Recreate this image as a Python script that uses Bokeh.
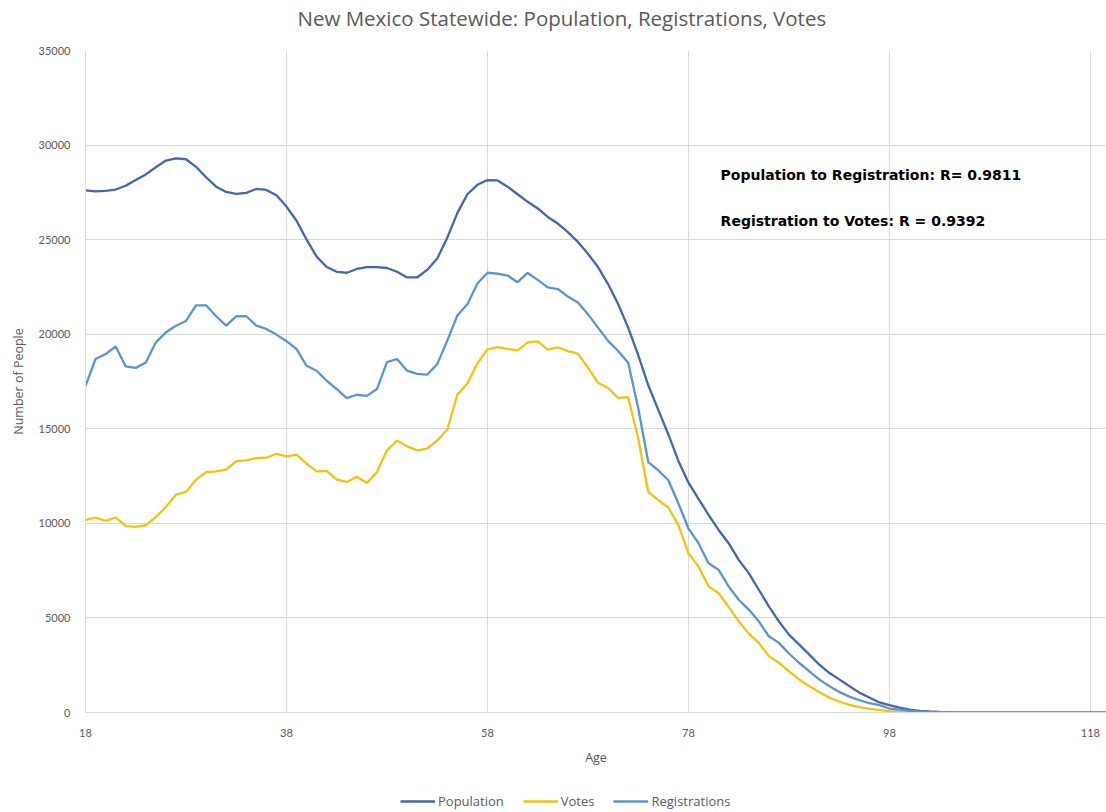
from bokeh.plotting import figure
from bokeh.layouts import column
from bokeh.models import Range1d, FixedTicker, Legend, LegendItem, Label, ColumnDataSource
from bokeh.embed import file_html
from bokeh.resources import INLINE

ages = list(range(18, 121))

population = [
    27600, 27550, 27580, 27650, 27850, 28150, 28450, 28830, 29180, 29300,
    29250, 28850, 28300, 27800, 27520, 27420, 27470, 27680, 27630, 27350,
    26750, 26000, 25000, 24100, 23550, 23300, 23250, 23450, 23550, 23550,
    23500, 23300, 23000, 23000, 23400, 24000, 25100, 26400, 27400, 27900,
    28150, 28130, 27800, 27400, 27000, 26650, 26200, 25850, 25400, 24880,
    24250, 23550, 22650, 21600, 20350, 18900, 17300, 16000, 14700, 13300,
    12150, 11300, 10450, 9650, 8950, 8070, 7370, 6490, 5610, 4820,
    4120, 3600, 3070, 2540, 2100, 1750, 1400, 1050, 790, 530,
    390, 260, 150, 90, 55, 35, 25, 15, 10, 8,
    6, 5, 4, 3, 3, 2, 2, 1, 1, 1,
    1, 1, 1,
]

registrations = [
    17270, 18690, 18950, 19350, 18300, 18220, 18500, 19570, 20100, 20450,
    20700, 21530, 21530, 20950, 20450, 20950, 20950, 20450, 20280, 19980,
    19630, 19220, 18330, 18070, 17540, 17100, 16620, 16800, 16740, 17100,
    18520, 18690, 18070, 17900, 17860, 18420, 19660, 20990, 21580, 22680,
    23250, 23200, 23100, 22750, 23240, 22870, 22480, 22390, 21990, 21680,
    21060, 20350, 19650, 19110, 18490, 16100, 13240, 12800, 12280, 11050,
    9730, 8950, 7890, 7540, 6670, 5960, 5440, 4820, 4030, 3680,
    3120, 2630, 2190, 1750, 1400, 1090, 840, 650, 490, 390,
    210, 150, 90, 50, 30, 20, 15, 10, 8, 6,
    5, 4, 4, 3, 3, 2, 2, 1, 1, 1,
    1, 1, 1,
]

votes = [
    10170, 10310, 10130, 10310, 9850, 9810, 9900, 10340, 10870, 11520,
    11660, 12310, 12710, 12750, 12840, 13290, 13330, 13450, 13470, 13680,
    13540, 13630, 13160, 12750, 12770, 12310, 12190, 12460, 12130, 12710,
    13860, 14380, 14070, 13860, 13950, 14380, 14950, 16800, 17400, 18450,
    19200, 19320, 19230, 19150, 19570, 19620, 19180, 19310, 19110, 18970,
    18230, 17430, 17160, 16630, 16670, 14500, 11660, 11230, 10840, 9910,
    8420, 7720, 6660, 6310, 5580, 4820, 4170, 3680, 2980, 2630,
    2190, 1750, 1400, 1090, 790, 580, 400, 280, 190, 140,
    70, 40, 20, 10, 5, 4, 3, 2, 2, 1,
    1, 1, 1, 1, 0, 0, 0, 0, 0, 0,
    0, 0, 0,
]

series_names = ["Population", "Votes", "Registrations"]
x_ticks = [18, 38, 58, 78, 98, 118]
y_ticks = [0, 5000, 10000, 15000, 20000, 25000, 30000, 35000]

title_text = "New Mexico Statewide: Population, Registrations, Votes"
note1 = "Population to Registration: R= 0.9811"
note2 = "Registration to Votes: R = 0.9392"

FONT = "Lato"
FONT2 = "Open Sans"
GRAY = "#595959"
GRID = "#D9D9D9"
COLORS = {"Population": "#4466AE", "Votes": "#F2C40F", "Registrations": "#5B95CF"}

src = ColumnDataSource(dict(age=ages, Population=population,
                            Registrations=registrations, Votes=votes))

# ---- header strip with the title
hd = figure(width=1106, height=40, output_backend="svg", toolbar_location=None,
            x_axis_type=None, y_axis_type=None, min_border=0,
            x_range=Range1d(0, 1), y_range=Range1d(0, 1))
hd.outline_line_color = None
hd.grid.visible = False
hd.add_layout(Label(x=212, y=23, x_units="screen", y_units="screen", text=title_text,
                    text_font=FONT2, text_font_size="20.5px", text_color=GRAY,
                    text_baseline="middle", text_align="left"))

# ---- main chart
p = figure(width=1106, height=740, output_backend="svg", toolbar_location=None,
           x_range=Range1d(18, 119.6), y_range=Range1d(0, 35000),
           min_border_left=85, min_border_right=0, min_border_top=10, min_border_bottom=68)

p.outline_line_color = None
p.background_fill_color = "white"
p.border_fill_color = "white"

p.xaxis.ticker = FixedTicker(ticks=x_ticks)
p.yaxis.ticker = FixedTicker(ticks=y_ticks)
p.xgrid.ticker = FixedTicker(ticks=x_ticks)
p.ygrid.ticker = FixedTicker(ticks=y_ticks)
p.xgrid.grid_line_color = GRID
p.ygrid.grid_line_color = GRID

for ax in (p.xaxis[0], p.yaxis[0]):
    ax.axis_line_color = GRID
    ax.major_tick_line_color = None
    ax.minor_tick_line_color = None
    ax.major_tick_out = 0
    ax.major_tick_in = 0
    ax.major_label_text_font = FONT
    ax.major_label_text_font_size = "11px"
    ax.major_label_text_color = GRAY
    ax.axis_label_text_font = FONT2
    ax.axis_label_text_font_size = "12.5px"
    ax.axis_label_text_font_style = "normal"
    ax.axis_label_text_color = GRAY

p.xaxis.axis_label = "Age"
p.yaxis.axis_label = "Number of People"
p.xaxis.major_label_standoff = 16
p.xaxis.axis_label_standoff = 9
p.yaxis.major_label_standoff = 15
p.yaxis.axis_label_standoff = 9

for name in series_names:
    p.line("age", name, source=src, line_color=COLORS[name], line_width=2.3)

for txt, yv in ((note1, 28440), (note2, 25960)):
    p.add_layout(Label(x=81.2, y=yv, text=txt, text_font="DejaVu Sans", text_font_style="bold",
                       text_font_size="14px", text_color="#000000", text_baseline="middle"))

# ---- legend strip below the chart
lg = figure(width=1106, height=32, output_backend="svg", toolbar_location=None,
            x_axis_type=None, y_axis_type=None, min_border=0,
            x_range=Range1d(0, 1), y_range=Range1d(0, 1))
lg.outline_line_color = None
lg.grid.visible = False
items = []
for name in series_names:
    r = lg.line("age", name, source=src, line_color=COLORS[name], line_width=2.3)
    items.append(LegendItem(label=name, renderers=[r]))
legend = Legend(items=items, orientation="horizontal", location=(315, 2),
                padding=0, margin=0, spacing=19, label_standoff=3,
                glyph_width=35, glyph_height=12, label_height=12,
                label_text_font=FONT2, label_text_font_size="13px",
                label_text_color=GRAY, background_fill_alpha=0,
                border_line_color=None)
lg.add_layout(legend, "center")

layout = column(hd, p, lg, spacing=0)
open("out.html", "w").write(file_html(layout, INLINE))
